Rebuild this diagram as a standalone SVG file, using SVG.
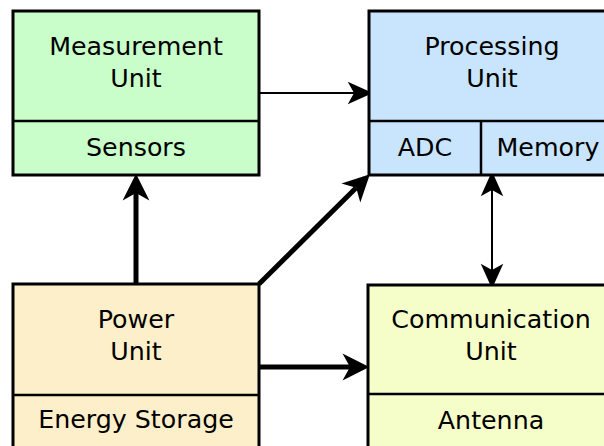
<svg xmlns="http://www.w3.org/2000/svg" width="604" height="446" viewBox="0 0 604 446">
<style>
.box{stroke:#000;stroke-width:3}
.div{stroke:#000;stroke-width:2.5;fill:none}
text{font-family:"DejaVu Sans","Liberation Sans",sans-serif;font-size:25.3px;fill:#000;text-anchor:middle}
.thin{stroke:#000;stroke-width:2;fill:none}
.thick{stroke:#000;stroke-width:5;fill:none}
</style>
<defs>
<marker id="ah" markerUnits="userSpaceOnUse" markerWidth="30" markerHeight="30" viewBox="0 -12 22 24" refX="5" refY="0" orient="auto-start-reverse">
<path d="M0,-9 L20,0 L0,9 L5,0 z" fill="#000"/>
</marker>
<marker id="ahT" markerUnits="userSpaceOnUse" markerWidth="30" markerHeight="30" viewBox="0 -14 27 28" refX="7" refY="0" orient="auto">
<path d="M0,-12.5 L25,0 L0,12.5 L7,0 z" fill="#000"/>
</marker>
</defs>
<g id="connectors">
<line class="thin" x1="259" y1="93" x2="354" y2="93" marker-end="url(#ah)"/>
<line class="thin" x1="492" y1="190" x2="492" y2="270" marker-start="url(#ah)" marker-end="url(#ah)"/>
<line class="thick" x1="136" y1="284" x2="136" y2="193" marker-end="url(#ahT)"/>
<line class="thick" x1="259" y1="367" x2="350" y2="367" marker-end="url(#ahT)"/>
<line class="thick" x1="259" y1="284" x2="356.2" y2="187.7" marker-end="url(#ahT)"/>
</g>
<g id="measurement">
<rect class="box" x="13" y="11" width="246" height="164" fill="#c9fdc9"/>
<line class="div" x1="13" y1="121" x2="259" y2="121"/>
<text x="136" y="55">Measurement</text>
<text x="136" y="87">Unit</text>
<text x="136" y="156">Sensors</text>
</g>
<g id="processing">
<rect class="box" x="369" y="11" width="246" height="164" fill="#c9e5fd"/>
<line class="div" x1="369" y1="121" x2="615" y2="121"/>
<line class="div" x1="481" y1="121" x2="481" y2="175"/>
<text x="492" y="55">Processing</text>
<text x="492" y="87">Unit</text>
<text x="425" y="156">ADC</text>
<text x="548" y="156">Memory</text>
</g>
<g id="power">
<rect class="box" x="13" y="284" width="246" height="180" fill="#fdefc9"/>
<line class="div" x1="13" y1="395" x2="259" y2="395"/>
<text x="136" y="328">Power</text>
<text x="136" y="360">Unit</text>
<text x="136" y="428">Energy Storage</text>
</g>
<g id="communication">
<rect class="box" x="368" y="285" width="246" height="180" fill="#f5fdc9"/>
<line class="div" x1="368" y1="394" x2="614" y2="394"/>
<text x="491" y="328">Communication</text>
<text x="491" y="360">Unit</text>
<text x="491" y="429">Antenna</text>
</g>
</svg>
